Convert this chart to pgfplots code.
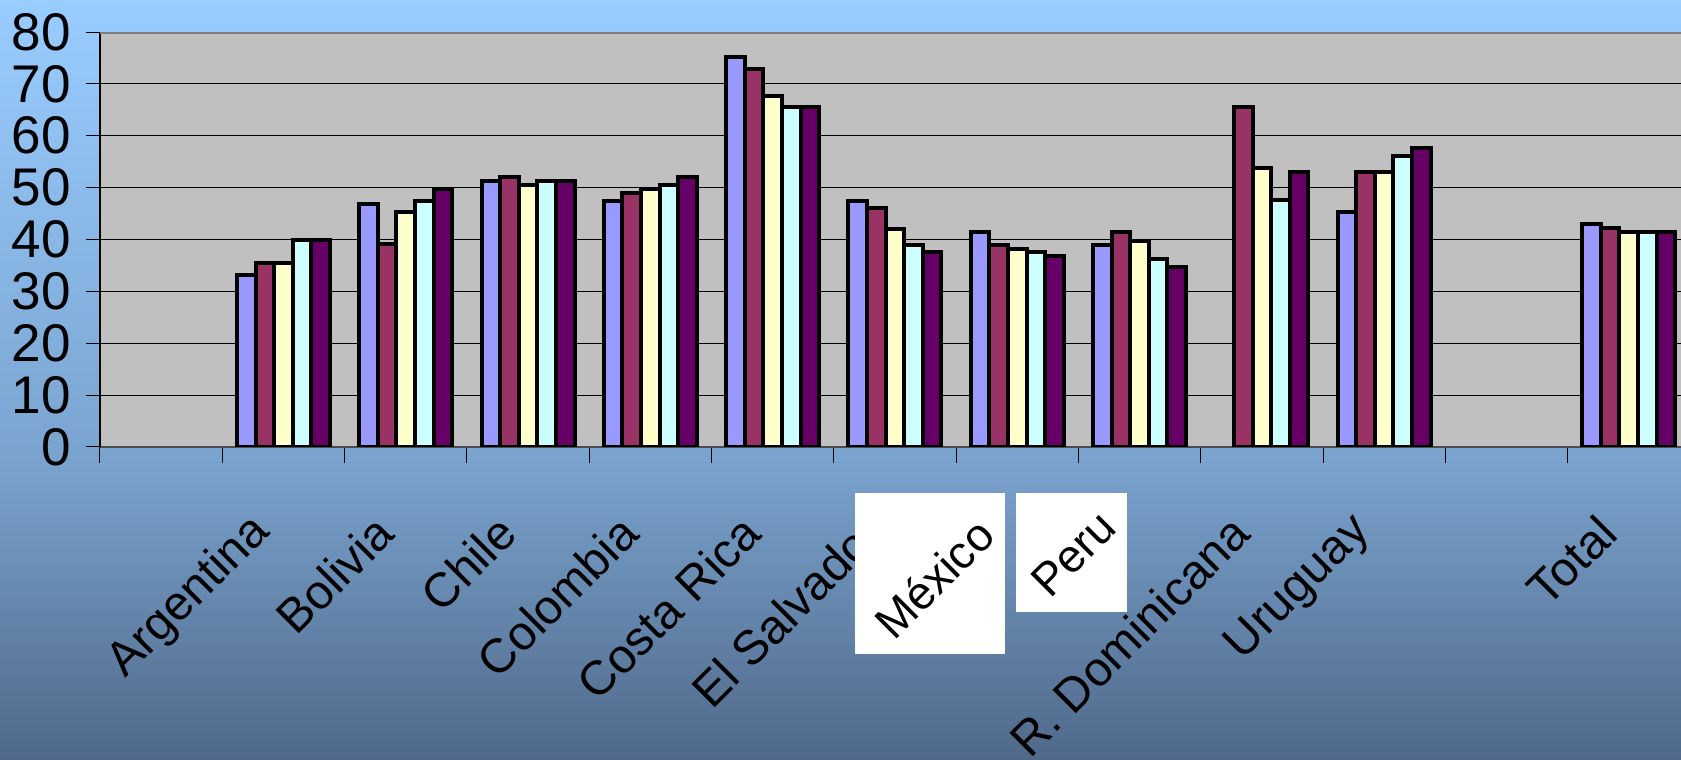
\documentclass[border=0pt]{standalone}
\usepackage{fontspec}
\setmainfont{Liberation Sans}
\usepackage{pgfplots}
\pgfplotsset{compat=1.18}

\definecolor{sA}{HTML}{9999FF}
\definecolor{sB}{HTML}{993366}
\definecolor{sC}{HTML}{FFFFCC}
\definecolor{sD}{HTML}{CCFFFF}
\definecolor{sE}{HTML}{660066}
\definecolor{plotbg}{HTML}{C0C0C0}
\definecolor{bgtop}{HTML}{99CCFF}
\definecolor{bgmid}{HTML}{7BA5D0}
\definecolor{bgbot}{HTML}{50698A}
% shading box is 100bp, the middle 50bp square fills the path
\pgfdeclareverticalshading{bgshade}{100bp}{color(0bp)=(bgbot); color(25bp)=(bgbot); color(45.6bp)=(bgmid); color(75bp)=(bgtop); color(100bp)=(bgtop)}

\newcommand{\xfont}{\fontsize{24}{24}\selectfont}
\newcommand{\yfont}{\fontsize{26.5}{26.5}\selectfont}

\begin{document}
\begin{tikzpicture}
\shade[shading=bgshade] (0,0) rectangle (840.5pt,380pt);
\begin{axis}[
  at={(50pt,156.5pt)}, anchor=south west,
  scale only axis, width=790.5pt, height=207.5pt,
  xmin=-0.5, xmax=12.427, ymin=0, ymax=80,
  axis background/.style={fill=plotbg},
  axis x line*=bottom, axis y line*=left,
  x axis line style={draw=black!70, line width=1pt},
  y axis line style={draw=black, line width=1pt},
  ybar=0pt, bar width=9.3pt,
  ytick={0,10,...,80},
  xtick={0,...,12},
  xticklabels={,Argentina,Bolivia,Chile,Colombia,Costa Rica,El Salvador,,,R. Dominicana,Uruguay,,Total},
  minor xtick={-0.5,0.5,...,11.5},
  tick align=outside,
  major tick length=7pt, minor tick length=8pt,
  major x tick style={draw=none},
  minor x tick style={draw=black, line width=0.5pt},
  ytick style={draw=black, line width=0.5pt},
  ymajorgrids, major grid style={draw=black, line width=0.5pt},
  /pgf/number format/assume math mode=true,
  yticklabel style={font=\yfont, xshift=-4pt},
  % shifts are in the rotated frame of the label
  xticklabel style={font=\xfont, rotate=45, anchor=east, xshift=-26.5pt, yshift=-15pt},
]
\addplot[fill=sA, draw=black, line width=2pt] coordinates {(1,33.2) (2,46.8) (3,51.3) (4,47.5) (5,75.2) (6,47.5) (7,41.4) (8,39.0) (10,45.3) (12,42.9)};
\addplot[fill=sB, draw=black, line width=2pt] coordinates {(1,35.4) (2,39.2) (3,52.0) (4,49.0) (5,72.9) (6,46.1) (7,39.0) (8,41.4) (9,65.5) (10,53.0) (12,42.2)};
\addplot[fill=sC, draw=black, line width=2pt] coordinates {(1,35.4) (2,45.3) (3,50.6) (4,49.7) (5,67.7) (6,42.1) (7,38.2) (8,39.8) (9,53.8) (10,53.0) (12,41.4)};
\addplot[fill=sD, draw=black, line width=2pt] coordinates {(1,40.0) (2,47.5) (3,51.2) (4,50.5) (5,65.6) (6,39.0) (7,37.6) (8,36.2) (9,47.6) (10,56.1) (12,41.4)};
\addplot[fill=sE, draw=black, line width=2pt] coordinates {(1,40.0) (2,49.8) (3,51.2) (4,52.1) (5,65.6) (6,37.6) (7,36.8) (8,34.7) (9,53.1) (10,57.6) (12,41.4)};
\draw[draw=black!50, line width=1.5pt] (rel axis cs:0,1) -- (rel axis cs:1,1);
\end{axis}
\node[fill=white, minimum width=75pt, minimum height=80.5pt, inner sep=0pt] at (465pt,93.25pt) {};
\node[rotate=45, font=\fontsize{23}{23}\selectfont, inner sep=0pt] at (467pt,90.75pt) {México};
\node[fill=white, minimum width=55.5pt, minimum height=59.5pt, inner sep=0pt] at (535.75pt,103.75pt) {};
\node[rotate=45, font=\fontsize{23}{23}\selectfont, inner sep=0pt] at (536.75pt,103pt) {Peru};
\pgfresetboundingbox
\path[use as bounding box] (0,0) rectangle (840.5pt,380pt);
\end{tikzpicture}
\end{document}
